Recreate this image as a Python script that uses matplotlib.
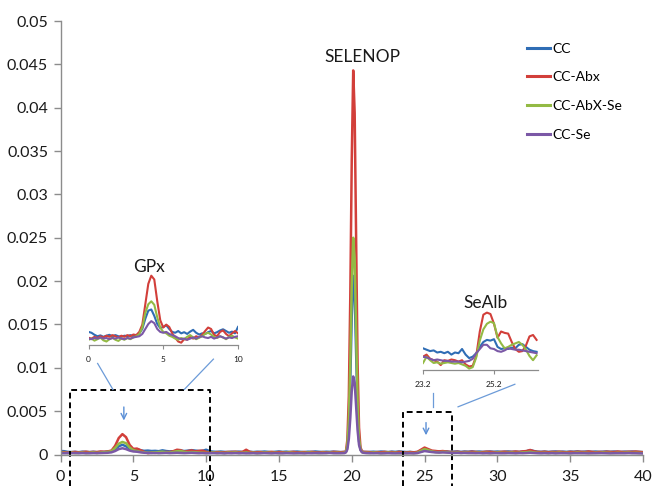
import numpy as np
import matplotlib
matplotlib.use("Agg")
import matplotlib.pyplot as plt

plt.rcParams['font.family'] = ['Lato', 'DejaVu Sans']

# ---------------- data (signal in units of 1e-5) ----------------
series_names = ["CC", "CC-Abx", "CC-AbX-Se", "CC-Se"]
series_colors = ["#2F6DB5", "#D23F3A", "#93BA44", "#7B58A6"]

# time grid segments (min)
seg_a_start, seg_a_stop, seg_a_step = 0.0, 19.5, 0.25
seg_b_start, seg_b_stop, seg_b_step = 19.6, 20.8, 0.1
seg_c_start, seg_c_stop, seg_c_step = 21.0, 40.0, 0.25

cc_a = [40, 38, 30, 28, 30, 27, 32, 30, 28, 31, 27, 30, 29, 33,
        40, 60, 95, 112, 95, 65, 55, 62, 48, 42, 45,
        40, 42, 38, 48, 40, 36, 38, 42, 45, 40, 44, 50, 45, 40, 42, 55, 38, 32, 30, 34,
        30, 28, 32, 30, 33, 29, 35, 31, 28, 32, 30, 34, 30, 27, 31, 35, 30, 33, 29, 31,
        34, 30, 28, 32, 30, 35, 31, 29, 32, 30, 33, 30, 28, 30]
ccabx_a = [25, 28, 22, 26, 30, 24, 28, 32, 26, 30, 28, 34, 32, 36,
           45, 100, 190, 235, 200, 110, 65, 68, 50, 30, 15,
           22, 18, 28, 25, 30, 28, 38, 55, 50, 32, 40, 48, 36, 42, 45, 30, 25, 22, 28, 26,
           24, 30, 28, 32, 26, 30, 55, 30, 24, 26, 28, 24, 26, 30, 24, 28, 26, 22, 28, 30,
           24, 26, 28, 24, 30, 26, 22, 28, 24, 26, 30, 28, 26, 30]
ccabxse_a = [18, 20, 16, 22, 15, 18, 22, 16, 20, 24, 18, 22, 26, 30,
             38, 75, 125, 145, 130, 80, 50, 40, 30, 25, 20,
             22, 26, 28, 32, 25, 22, 30, 38, 40, 30,
             24, 28, 26, 22, 20, 18, 20, 22, 18, 20,
             16, 22, 20, 24, 18, 20, 22, 18, 20, 16,
             18, 22, 20, 18, 20, 16, 18, 20, 22, 18,
             16, 20, 18, 22, 20, 18, 16, 20, 18, 22,
             18, 20, 18, 20]
ccse_a = [15, 14, 16, 15, 17, 14, 16, 15, 14, 16, 15, 17, 18, 20,
          25, 40, 62, 72, 62, 45, 35, 32, 25, 20, 18,
          16, 18, 15, 17, 19, 16, 18, 20, 18, 16,
          18, 20, 17, 15, 16, 14, 15, 16, 14, 15,
          13, 15, 14, 16, 14, 15, 13, 14, 15, 13,
          14, 16, 14, 13, 15, 14, 13, 15, 14, 13,
          15, 14, 13, 15, 14, 16, 15, 14, 16, 18,
          15, 14, 15, 16]

cc_b = [30, 90, 320, 850, 1600, 2060, 1850, 1150, 500, 150, 60, 35, 30]
ccabx_b = [35, 170, 670, 1820, 3400, 4430, 3940, 2440, 1050, 310, 80, 40, 30]
ccabxse_b = [30, 110, 400, 1050, 1950, 2500, 2250, 1400, 600, 180, 60, 30, 20]
ccse_b = [25, 60, 180, 420, 730, 900, 830, 560, 280, 110, 50, 25, 20]

cc_c = [28, 30, 32, 29, 34, 31, 28, 33, 30, 35,
        32, 28, 30, 26, 28, 35, 48, 42, 36, 38,
        34, 32, 36, 30, 33, 35, 30, 34, 32, 36,
        31, 34, 30, 33, 35, 31, 34, 30, 32, 35,
        31, 33, 30, 34, 38, 50, 40, 33, 31, 34,
        30, 33, 35, 31, 33, 30, 34, 32, 36, 31,
        33, 35, 31, 34, 30, 33, 35, 31, 34, 32,
        30, 33, 31, 34, 32, 30, 28]
ccabx_c = [30, 26, 24, 28, 25, 30, 26, 28, 24, 30,
           26, 22, 28, 24, 30, 55, 80, 62, 45, 40,
           36, 40, 34, 30, 28, 32, 26, 30, 28, 32,
           30, 26, 28, 32, 30, 28, 26, 30, 32, 28,
           30, 34, 30, 36, 40, 52, 38, 30, 28, 32,
           26, 30, 28, 32, 28, 26, 30, 28, 32, 30,
           28, 34, 30, 26, 30, 28, 32, 30, 28, 34,
           30, 28, 32, 30, 34, 30, 26]
ccabxse_c = [20, 18, 22, 20, 16, 18, 22, 18, 20, 16,
             18, 16, 18, 15, 20, 42, 62, 50, 35, 28,
             25, 30, 28, 22, 20, 24, 18, 22, 20, 18,
             20, 22, 18, 20, 16, 18, 22, 20, 18, 20,
             22, 18, 20, 24, 26, 32, 24, 20, 18, 20,
             16, 20, 18, 22, 18, 20, 16, 18, 22, 18,
             20, 18, 16, 20, 18, 22, 20, 18, 16, 20,
             18, 20, 22, 18, 20, 18, 16]
ccse_c = [16, 15, 14, 15, 13, 14, 15, 14, 13, 15,
          14, 13, 14, 13, 16, 28, 40, 34, 28, 24,
          22, 24, 22, 20, 18, 19, 17, 18, 16, 17,
          15, 16, 14, 15, 14, 16, 15, 14, 15, 16,
          15, 14, 16, 15, 17, 20, 17, 15, 14, 15,
          14, 15, 13, 14, 15, 14, 13, 15, 14, 15,
          14, 13, 15, 14, 16, 15, 14, 13, 15, 14,
          15, 14, 16, 15, 14, 13, 12]

# GPx inset (0-10 min, step 0.2)
gpx_start, gpx_stop, gpx_step = 0.0, 10.0, 0.2
gpx_cc = [45, 42, 35, 30, 33, 28, 32, 35, 30, 34, 30, 28, 32, 30, 34, 30, 33, 40, 55, 90,
          118, 122, 100, 72, 58, 62, 68, 55, 45, 42, 48, 40, 44, 38, 46, 52, 42, 36, 40, 38,
          44, 48, 40, 44, 50, 54, 48, 42, 46, 40, 62]
gpx_ccabx = [25, 22, 28, 24, 30, 26, 32, 28, 34, 30, 26, 32, 28, 34, 30, 36, 34, 45, 70, 140,
             210, 238, 225, 150, 85, 60, 70, 62, 40, 25, 12, 8, 20, 18, 28, 22, 30, 26, 35, 48,
             60, 55, 35, 30, 45, 50, 38, 30, 40, 48, 40]
gpx_ccabxse = [18, 22, 15, 20, 25, 16, 12, 20, 25, 18, 14, 22, 18, 24, 20, 26, 30, 38, 60, 110,
               140, 150, 138, 95, 60, 45, 40, 32, 28, 22, 18, 24, 20, 28, 34, 26, 20, 25, 30, 38,
               42, 36, 28, 24, 30, 26, 20, 28, 32, 26, 22]
gpx_ccse = [22, 20, 24, 22, 26, 22, 24, 20, 24, 22, 26, 22, 20, 24, 22, 26, 28, 30, 38, 55,
            72, 82, 75, 55, 45, 42, 45, 38, 34, 30, 24, 20, 22, 18, 22, 26, 22, 28, 30, 26,
            24, 28, 22, 26, 30, 26, 22, 26, 24, 28, 30]

# SeAlb inset (23.2-26.4 min, step 0.1)
sealb_start, sealb_stop, sealb_step = 23.2, 26.4, 0.1
sealb_cc = [31, 29, 27, 28, 25, 26, 24, 26, 22, 25, 24, 30, 22, 17, 19, 24, 33, 40, 43, 42,
            44, 33, 30, 31, 30, 32, 31, 36, 37, 33, 29, 27, 26]
sealb_ccabx = [19, 22, 16, 14, 12, 7, 14, 13, 15, 14, 12, 14, 8, 5, 6, 20, 55, 79, 82, 80,
               66, 46, 55, 53, 52, 40, 30, 26, 27, 35, 48, 50, 43]
sealb_ccabxse = [10, 19, 14, 10, 11, 9, 10, 11, 10, 9, 10, 8, 6, 2, 4, 18, 42, 58, 66, 69,
                 67, 47, 38, 31, 33, 36, 38, 40, 36, 29, 20, 14, 21]
sealb_ccse = [19, 18, 16, 14, 15, 14, 13, 13, 12, 12, 12, 11, 12, 13, 16, 24, 30, 36, 36, 31,
              30, 27, 26, 28, 31, 30, 29, 29, 28, 27, 26, 25, 24]

y_ticks = [0, 0.005, 0.01, 0.015, 0.02, 0.025, 0.03, 0.035, 0.04, 0.045, 0.05]
y_tick_labels = ["0", "0.005", "0.01", "0.015", "0.02", "0.025", "0.03", "0.035", "0.04", "0.045", "0.05"]
x_ticks = [0, 5, 10, 15, 20, 25, 30, 35, 40]
unit = 1e-5

# ---------------- build ----------------
t_main = np.concatenate([
    np.arange(seg_a_start, seg_a_stop + 1e-9, seg_a_step),
    np.arange(seg_b_start, seg_b_stop + 1e-9, seg_b_step),
    np.arange(seg_c_start, seg_c_stop + 1e-9, seg_c_step)])
main_series = [cc_a + cc_b + cc_c, ccabx_a + ccabx_b + ccabx_c,
               ccabxse_a + ccabxse_b + ccabxse_c, ccse_a + ccse_b + ccse_c]
t_gpx = np.arange(gpx_start, gpx_stop + 1e-9, gpx_step)
gpx_series = [gpx_cc, gpx_ccabx, gpx_ccabxse, gpx_ccse]
t_sealb = np.arange(sealb_start, sealb_stop + 1e-9, sealb_step)
sealb_series = [sealb_cc, sealb_ccabx, sealb_ccabxse, sealb_ccse]

W, H = 653, 486
fig = plt.figure(figsize=(W / 100, H / 100), dpi=100)
fig.patch.set_facecolor("white")

def px_rect(l, r, b, t):
    return [l / W, (H - b) / H, (r - l) / W, (b - t) / H]

ax = fig.add_axes(px_rect(60.5, 643, 454.5, 21))
for name, col, vals in zip(series_names, series_colors, main_series):
    n = min(len(t_main), len(vals))
    ax.plot(t_main[:n], np.array(vals[:n]) * unit, color=col, lw=1.8, label=name,
            solid_joinstyle="round")
ax.set_xlim(0, 40)
ax.set_ylim(0, 0.05)
ax.set_yticks(y_ticks)
ax.set_yticklabels(y_tick_labels)
ax.set_xticks(x_ticks)
for s in ["top", "right"]:
    ax.spines[s].set_visible(False)
for s in ["left", "bottom"]:
    ax.spines[s].set_color("#8c8c8c")
    ax.spines[s].set_linewidth(1.0)
ax.tick_params(axis="both", colors="#8c8c8c", labelcolor="#1a1a1a", labelsize=11.5,
               length=5, width=1.0, direction="out")
ax.tick_params(axis="y", pad=4)
ax.tick_params(axis="x", pad=6)

leg = ax.legend(loc="upper left", bbox_to_anchor=(514 / W, 1 - 30 / H),
                bbox_transform=fig.transFigure, frameon=False, fontsize=10,
                handlelength=1.7, handletextpad=0.15, labelspacing=1.2)
for line in leg.get_lines():
    line.set_linewidth(2.2)

# annotations
ax.text(20.75, 0.0458, "SELENOP", ha="center", va="center", fontsize=12.5, color="#1a1a1a")
ax.text(6.1, 0.0216, "GPx", ha="center", va="center", fontsize=12.5, color="#1a1a1a")
ax.text(29.2, 0.0175, "SeAlb", ha="center", va="center", fontsize=12.5, color="#1a1a1a")

arrow_col = "#5B8FD6"
ax.annotate("", xy=(4.35, 0.0036), xytext=(4.35, 0.0058),
            arrowprops=dict(arrowstyle="->", color=arrow_col, lw=1.0))
ax.annotate("", xy=(25.1, 0.0019), xytext=(25.1, 0.0040),
            arrowprops=dict(arrowstyle="->", color=arrow_col, lw=1.0))

# dashed zoom boxes
ybot = -0.0036
ax.plot([0.65, 0.65, 10.3, 10.3], [ybot, 0.0074, 0.0074, ybot], ls=(0, (3, 2)),
        color="black", lw=1.4, clip_on=False)
ax.plot([23.55, 23.55, 26.9, 26.9], [ybot, 0.0049, 0.0049, ybot], ls=(0, (3, 2)),
        color="black", lw=1.4, clip_on=False)

# connector lines
con_col = "#6C9BD8"
ax.plot([2.55, 3.6], [0.0105, 0.0075], color=con_col, lw=0.9, clip_on=False)
ax.plot([10.5, 8.5], [0.0110, 0.0075], color=con_col, lw=0.9, clip_on=False)
ax.plot([25.55, 25.55], [0.0071, 0.0055], color=con_col, lw=0.9, clip_on=False)
ax.plot([27.3, 31.2], [0.0055, 0.0081], color=con_col, lw=0.9, clip_on=False)

# insets
def style_inset(a, xt, xl):
    for s in ["top", "right", "left"]:
        a.spines[s].set_visible(False)
    a.spines["bottom"].set_color("#8c8c8c")
    a.spines["bottom"].set_linewidth(0.9)
    a.set_yticks([])
    a.set_xticks(xt)
    a.set_xticklabels(xl)
    a.tick_params(axis="x", colors="#8c8c8c", labelcolor="#1a1a1a", labelsize=6,
                  length=3, width=0.8, pad=5)
    a.patch.set_alpha(0)

ins1 = fig.add_axes(px_rect(88.5, 238, 345, 262))
for col, vals in zip(series_colors, gpx_series):
    n = min(len(t_gpx), len(vals))
    ins1.plot(t_gpx[:n], vals[:n], color=col, lw=1.5)
ins1.set_xlim(0, 10)
ins1.set_ylim(0, 285)
style_inset(ins1, [0, 5, 10], ["0", "5", "10"])

ins2 = fig.add_axes(px_rect(423, 538, 370, 300))
for col, vals in zip(series_colors, sealb_series):
    n = min(len(t_sealb), len(vals))
    ins2.plot(t_sealb[:n], vals[:n], color=col, lw=1.5)
ins2.set_xlim(23.2, 26.44)
ins2.set_ylim(0, 100)
style_inset(ins2, [23.2, 25.2], ["23.2", "25.2"])

fig.savefig("out.png", dpi=100)
